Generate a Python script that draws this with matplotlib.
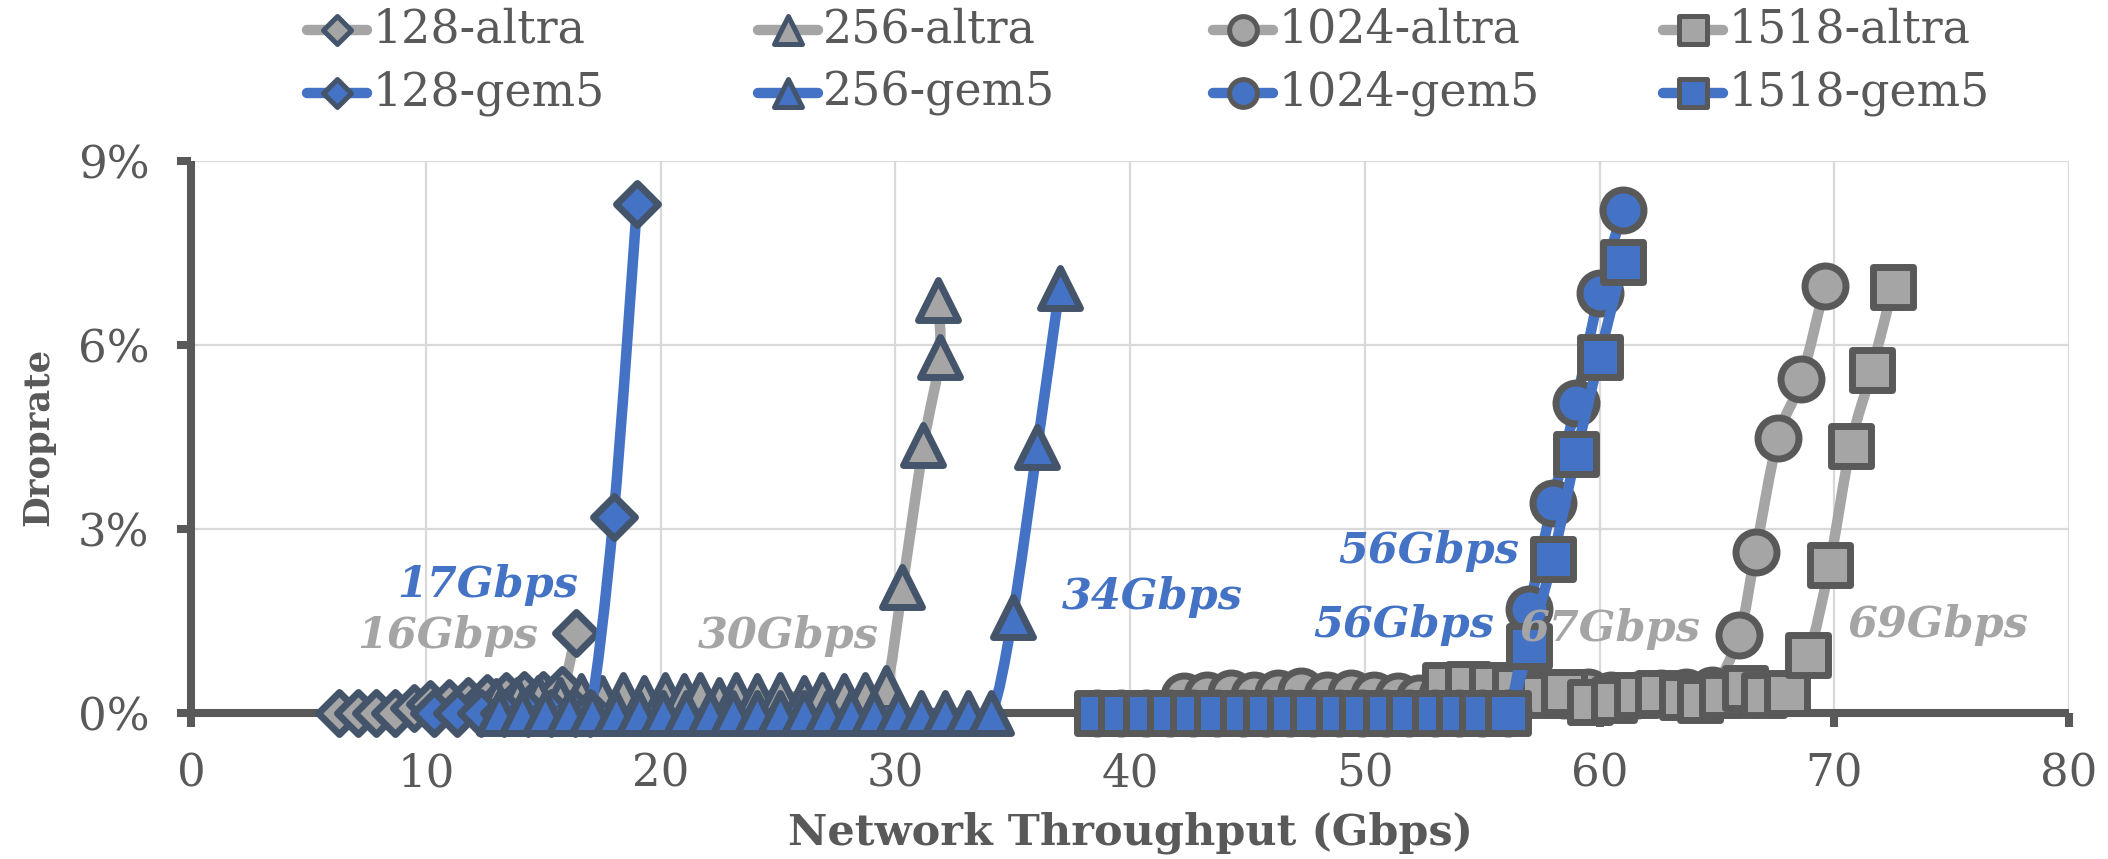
import numpy as np
import matplotlib
matplotlib.use("Agg")
import matplotlib.pyplot as plt
from matplotlib.path import Path
from matplotlib.patches import PathPatch
from matplotlib.lines import Line2D
from matplotlib.markers import MarkerStyle

# ---------------- data ----------------
x128_altra = [6.3, 7.1, 7.9, 8.7, 9.5, 10.2, 11.0, 11.8, 12.6, 13.4, 14.2, 15.0, 15.8, 16.4]
y128_altra = [0.0, 0.0, 0.0, 0.0, 0.08, 0.14, 0.16, 0.19, 0.24, 0.27, 0.30, 0.30, 0.38, 1.30]

x256_altra = [13.0, 13.9, 14.8, 15.7, 16.6, 17.5, 18.4, 19.3, 20.2, 21.0, 21.7, 22.5, 23.2,
              24.1, 25.1, 26.1, 26.9, 27.8, 28.7, 29.6, 30.3, 31.2, 31.9, 31.8]
y256_altra = [0.20, 0.22, 0.25, 0.22, 0.28, 0.25, 0.30, 0.25, 0.30, 0.28, 0.30, 0.22, 0.30,
              0.28, 0.30, 0.25, 0.30, 0.28, 0.30, 0.41, 2.05, 4.37, 5.81, 6.74]

x1024_altra = [42.3, 43.3, 44.3, 45.3, 46.3, 47.3, 48.4, 49.4, 50.4, 51.4, 52.3, 53.3, 54.3,
               55.4, 56.4, 57.4, 58.5, 59.5, 60.5, 61.6, 62.6, 63.7, 64.8,
               65.95, 66.65, 67.6, 68.6, 69.6]
y1024_altra = [0.28, 0.30, 0.32, 0.30, 0.32, 0.36, 0.30, 0.32, 0.30, 0.28, 0.25, 0.30, 0.30,
               0.28, 0.30, 0.32, 0.30, 0.34, 0.30, 0.30, 0.32, 0.34, 0.38,
               1.27, 2.63, 4.48, 5.44, 6.97]

x1518_altra = [53.4, 54.4, 55.4, 56.4, 57.5, 58.5, 59.6, 60.6, 61.6, 62.5, 63.5, 64.3, 65.2,
               66.2, 67.0, 68.0, 68.9, 69.8, 70.7, 71.6, 72.5]
y1518_altra = [0.45, 0.47, 0.45, 0.40, 0.29, 0.34, 0.18, 0.21, 0.29, 0.32, 0.26, 0.21, 0.29,
               0.40, 0.29, 0.32, 0.94, 2.41, 4.36, 5.59, 6.95]

x128_gem5 = [10.35, 11.35, 12.35, 13.35, 14.35, 15.35, 16.35, 17.0, 18.0, 19.0]
y128_gem5 = [0, 0, 0, 0, 0, 0, 0, 0, 3.2, 8.3]

x256_gem5 = [13.1, 14.1, 15.1, 16.1, 17.1, 18.1, 19.1, 20.1, 21.1, 22.1, 23.1, 24.1, 25.1,
             26.1, 27.1, 28.1, 29.1, 30.1, 31.1, 32.1, 33.1, 34.1, 35.0, 36.05, 37.0]
y256_gem5 = [0, 0, 0, 0, 0, 0, 0, 0, 0, 0, 0, 0, 0, 0, 0, 0, 0, 0, 0, 0, 0, 0, 1.57, 4.34, 6.93]

x1024_gem5 = [38.6, 39.6, 40.7, 41.7, 42.7, 43.7, 44.8, 45.8, 46.8, 47.8, 48.9, 49.9, 50.9,
              51.9, 53.0, 54.0, 55.0, 56.1, 57.0, 58.0, 59.0, 60.0, 61.0]
y1024_gem5 = [0, 0, 0, 0, 0, 0, 0, 0, 0, 0, 0, 0, 0, 0, 0, 0, 0, 0, 1.69, 3.43, 5.05, 6.85, 8.2]

x1518_gem5 = [38.6, 39.6, 40.7, 41.7, 42.7, 43.7, 44.8, 45.8, 46.8, 47.8, 48.9, 49.9, 50.9,
              51.9, 53.0, 54.0, 55.0, 56.1, 57.0, 58.0, 59.0, 60.0, 61.0]
y1518_gem5 = [0, 0, 0, 0, 0, 0, 0, 0, 0, 0, 0, 0, 0, 0, 0, 0, 0, 0, 1.1, 2.51, 4.22, 5.81, 7.35]

series_names = ["128-altra", "256-altra", "1024-altra", "1518-altra",
                "128-gem5", "256-gem5", "1024-gem5", "1518-gem5"]

x_ticks = [0, 10, 20, 30, 40, 50, 60, 70, 80]
y_ticks = [0, 3, 6, 9]
y_tick_labels = ["0%", "3%", "6%", "9%"]

annotations = [  # text, x, y, colour key, alignment
    ("17Gbps", 16.5, 2.09, "gem5", "right"),
    ("16Gbps", 14.8, 1.26, "altra", "right"),
    ("30Gbps", 29.3, 1.26, "altra", "right"),
    ("34Gbps", 37.1, 1.89, "gem5", "left"),
    ("56Gbps", 56.6, 2.64, "gem5", "right"),
    ("56Gbps", 55.5, 1.43, "gem5", "right"),
    ("67Gbps", 56.6, 1.37, "altra", "left"),
    ("69Gbps", 70.6, 1.43, "altra", "left"),
]

# ---------------- style ----------------
BLUE = "#4472C4"
GRAY = "#A5A5A5"
EDGE_BD = "#44546A"
EDGE_G = "#595959"
TXT = "#595959"

plt.rcParams["font.family"] = ["DejaVu Serif"]

fig = plt.figure(figsize=(21.08, 8.59), dpi=100)
ax = fig.add_axes([191 / 2108, 1 - 713 / 859, (2069 - 191) / 2108, (713 - 161) / 859])


def smooth_path(xs, ys):
    pts = np.column_stack([np.asarray(xs, float), np.asarray(ys, float)])
    n = len(pts)
    verts = [pts[0]]
    codes = [Path.MOVETO]
    for i in range(n - 1):
        p0 = pts[i - 1] if i > 0 else pts[i]
        p1 = pts[i]
        p2 = pts[i + 1]
        p3 = pts[i + 2] if i + 2 < n else pts[i + 1]
        c1 = p1 + (p2 - p0) / 6.0
        c2 = p2 - (p3 - p1) / 6.0
        verts += [c1, c2, p2]
        codes += [Path.CURVE4] * 3
    return Path(verts, codes)


spec = {
    "128-altra": (x128_altra, y128_altra, GRAY, "D", EDGE_BD),
    "256-altra": (x256_altra, y256_altra, GRAY, "^", EDGE_BD),
    "1024-altra": (x1024_altra, y1024_altra, GRAY, "o", EDGE_G),
    "1518-altra": (x1518_altra, y1518_altra, GRAY, "s", EDGE_G),
    "128-gem5": (x128_gem5, y128_gem5, BLUE, "D", EDGE_BD),
    "256-gem5": (x256_gem5, y256_gem5, BLUE, "^", EDGE_BD),
    "1024-gem5": (x1024_gem5, y1024_gem5, BLUE, "o", EDGE_G),
    "1518-gem5": (x1518_gem5, y1518_gem5, BLUE, "s", EDGE_G),
}
msize = {"D": 21.0, "^": 29.5, "o": 29.5, "s": 29.5}
lmsize = {"D": 14.3, "^": 20, "o": 20, "s": 20}

for k, name in enumerate(series_names):
    xs, ys, col, mk, ec = spec[name]
    z = 3 + k
    patch = PathPatch(smooth_path(xs, ys), fill=False, edgecolor=col, lw=7.6,
                      capstyle="round", joinstyle="round", zorder=z, clip_on=False)
    ax.add_patch(patch)
    ax.plot(xs, ys, linestyle="none",
            marker=MarkerStyle(mk, joinstyle="round"), markersize=msize[mk],
            markerfacecolor=col, markeredgecolor=ec, markeredgewidth=5.0,
            zorder=z + 0.5, clip_on=False)

ax.set_xlim(0, 80)
ax.set_ylim(0, 9)
ax.set_xticks(x_ticks)
ax.set_yticks(y_ticks)
ax.set_yticklabels(y_tick_labels)
ax.set_axisbelow(True)
ax.grid(True, color="#D9D9D9", lw=1.6, zorder=0)

for s in ["top", "right"]:
    ax.spines[s].set_visible(False)
for s in ["left", "bottom"]:
    ax.spines[s].set_color(EDGE_G)
    ax.spines[s].set_linewidth(5.8)
    ax.spines[s].set_zorder(1.5)
    ax.spines[s].set_capstyle("butt")

ax.tick_params(axis="both", direction="out", length=10, width=5.8, color=EDGE_G,
               labelcolor=TXT, labelsize=32.5)
ax.tick_params(axis="y", pad=20)
ax.tick_params(axis="x", pad=18)

ax.set_xlabel("Network Throughput (Gbps)", fontsize=31, fontweight="bold", color=TXT)
ax.xaxis.label.set_va("center")
ax.xaxis.set_label_coords(0.5, (713 - 833) / 552)
ax.set_ylabel("Droprate", fontsize=25.5, fontweight="bold", color=TXT)
ax.yaxis.label.set_va("center")
ax.yaxis.set_label_coords((38 - 191) / 1878, 0.5)

for txt, xv, yv, key, ha in annotations:
    ax.text(xv, yv, txt, color=BLUE if key == "gem5" else GRAY, fontsize=31,
            fontweight="bold", fontstyle="italic", ha=ha, va="center", zorder=30)

# ---------------- legend (two rows, four columns) ----------------
col_centers = [337, 788, 1243, 1693]
row_y = [30, 93]
order = [["128-altra", "128-gem5"], ["256-altra", "256-gem5"],
         ["1024-altra", "1024-gem5"], ["1518-altra", "1518-gem5"]]
W, H = 2108.0, 859.0
for ci, cx in enumerate(col_centers):
    for ri, name in enumerate(order[ci]):
        xs, ys, col, mk, ec = spec[name]
        yy = 1 - row_y[ri] / H
        fig.add_artist(Line2D([(cx - 30) / W, (cx + 30) / W], [yy, yy],
                              transform=fig.transFigure, color=col, lw=7.5,
                              solid_capstyle="round"))
        fig.add_artist(Line2D([cx / W], [yy], transform=fig.transFigure,
                              linestyle="none", marker=MarkerStyle(mk, joinstyle="round"),
                              markersize=lmsize[mk], markerfacecolor=col,
                              markeredgecolor=ec, markeredgewidth=3.6))
        fig.text((cx + 35) / W, yy, name, fontsize=33, color=TXT, ha="left", va="center")

fig.savefig("out.png", dpi=100)
